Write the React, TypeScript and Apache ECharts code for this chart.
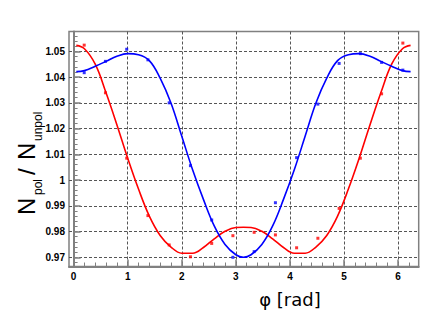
import React, { useEffect, useRef } from "react";
import * as echarts from "echarts";

// measured points (phi in rad)
const phiPoints = [0.196, 0.589, 0.982, 1.374, 1.767, 2.16, 2.553, 2.945, 3.338, 3.731, 4.123, 4.516, 4.909, 5.301, 5.694, 6.087];
const redPoints = [1.0524, 1.0339, 1.0085, 0.9862, 0.9748, 0.9702, 0.9754, 0.9784, 0.9797, 0.9787, 0.9737, 0.9774, 0.989, 1.0085, 1.0335, 1.0532];
const bluePoints = [1.0417, 1.0461, 1.0508, 1.0467, 1.03, 1.0056, 0.9845, 0.97, 0.9722, 0.9912, 1.0087, 1.0295, 1.0453, 1.0491, 1.0457, 1.0427];

// fitted curves
const phiCurve = [0.05, 0.2, 0.4, 0.6, 0.8, 1.0, 1.2, 1.4, 1.6, 1.8, 2.0, 2.2, 2.4, 2.6, 2.8, 3.0, 3.14, 3.28, 3.48, 3.68, 3.88, 4.08, 4.28, 4.48, 4.68, 4.88, 5.08, 5.28, 5.48, 5.68, 5.88, 6.08, 6.23];
const redCurve = [1.0523, 1.051, 1.045, 1.0339, 1.0215, 1.0085, 0.9965, 0.986, 0.9785, 0.974, 0.9716, 0.9716, 0.9738, 0.9772, 0.9801, 0.9816, 0.9817, 0.9816, 0.9801, 0.9772, 0.9738, 0.9716, 0.9716, 0.974, 0.9785, 0.986, 0.9965, 1.0085, 1.0215, 1.0339, 1.045, 1.051, 1.0523];
const blueCurve = [1.0421, 1.0425, 1.0442, 1.0461, 1.0481, 1.0491, 1.0487, 1.0464, 1.0396, 1.0299, 1.017, 1.004, 0.9925, 0.9822, 0.975, 0.971, 0.97, 0.971, 0.975, 0.9822, 0.9925, 1.004, 1.017, 1.0299, 1.0396, 1.0464, 1.0487, 1.0491, 1.0481, 1.0461, 1.0442, 1.0425, 1.0421];

const xTickLabels = [0, 1, 2, 3, 4, 5, 6];
const yTickLabels = [0.97, 0.98, 0.99, 1.0, 1.01, 1.02, 1.03, 1.04, 1.05];

const X_MIN = -0.085;
const X_MAX = 6.38;
const Y_MIN = 0.96643;
const Y_MAX = 1.0577;

function minorX() {
  const out: number[] = [];
  for (let i = 0; i <= 31; i++) out.push(i / 5);
  return out;
}
function minorY() {
  const out: number[] = [];
  for (let i = 484; i <= 528; i++) out.push(i / 500);
  return out;
}

export default function App() {
  const ref = useRef<HTMLDivElement>(null);
  useEffect(() => {
    if (!ref.current) return;
    const chart = echarts.init(ref.current, null, { renderer: "svg" });
    const frame = "#808080";
    const grid = "#555555";
    const lbl = { fontFamily: "Liberation Sans", fontWeight: "bold" as const, fontSize: 10, color: "#000" };
    const pair = (xs: number[], ys: number[]) => xs.map((x, i) => [x, ys[i]]);
    chart.setOption({
      animation: false,
      backgroundColor: "#fff",
      grid: { left: 69, top: 31.5, right: 17.3, bottom: 43.5, show: true, borderColor: frame, borderWidth: 1.5 },
      xAxis: [
        {
          type: "value", min: X_MIN, max: X_MAX,
          axisLine: { show: true, lineStyle: { color: frame, width: 2 } },
          axisTick: { show: true, inside: true, length: 7, customValues: xTickLabels, lineStyle: { color: frame, width: 1.5 } },
          axisLabel: { ...lbl, margin: 5, customValues: xTickLabels, formatter: (v: number) => String(Math.round(v)) },
          splitLine: { show: true, lineStyle: { color: grid, width: 1, type: [3, 2] } },
        },
        {
          type: "value", min: X_MIN, max: X_MAX, position: "bottom",
          axisLine: { show: false },
          axisTick: { show: true, inside: true, length: 4, customValues: minorX(), lineStyle: { color: frame, width: 1 } },
          axisLabel: { show: false },
          splitLine: { show: false },
        },
      ],
      yAxis: [
        {
          type: "value", min: Y_MIN, max: Y_MAX,
          axisLine: { show: true, lineStyle: { color: frame, width: 2 } },
          axisTick: { show: true, inside: true, length: 7, customValues: yTickLabels, lineStyle: { color: frame, width: 1.5 } },
          axisLabel: { ...lbl, margin: 4, customValues: yTickLabels, formatter: (v: number) => String(parseFloat(v.toFixed(2))) },
          splitLine: { show: true, lineStyle: { color: grid, width: 1, type: [3, 2] } },
        },
        {
          type: "value", min: Y_MIN, max: Y_MAX, position: "left",
          axisLine: { show: false },
          axisTick: { show: true, inside: true, length: 4, customValues: minorY(), lineStyle: { color: frame, width: 1 } },
          axisLabel: { show: false },
          splitLine: { show: false },
        },
      ],
      series: [
        { type: "line", data: pair(phiCurve, redCurve), smooth: 0.4, showSymbol: false, lineStyle: { color: "#ff0000", width: 1.6 }, z: 3 },
        { type: "line", data: pair(phiCurve, blueCurve), smooth: 0.4, showSymbol: false, lineStyle: { color: "#0000ff", width: 1.6 }, z: 3 },
        { type: "scatter", data: pair(phiPoints, redPoints), symbol: "rect", symbolSize: 3, itemStyle: { color: "#ff0000" }, z: 4 },
        { type: "scatter", data: pair(phiPoints, bluePoints), symbol: "rect", symbolSize: 3, itemStyle: { color: "#0000ff" }, z: 4 },
      ],
      graphic: [
        {
          type: "text", x: 290, y: 299.5,
          style: { text: "φ [rad]", fontFamily: "DejaVu Sans", fontSize: 18, fill: "#000", align: "center", verticalAlign: "middle" },
        },
        {
          type: "group", x: 0, y: 215, rotation: Math.PI / 2,
          children: [
            { type: "text", x: 0, y: 26.5, style: { text: "N", fontFamily: "Liberation Sans", fontSize: 24, fill: "#000", align: "left", verticalAlign: "middle" } },
            { type: "text", x: 20, y: 37.8, style: { text: "pol", fontFamily: "Liberation Sans", fontSize: 12, fill: "#000", align: "left", verticalAlign: "middle" } },
            { type: "text", x: 40, y: 26.5, style: { text: "/", fontFamily: "Liberation Sans", fontSize: 24, fill: "#000", align: "left", verticalAlign: "middle" } },
            { type: "text", x: 55, y: 26.5, style: { text: "N", fontFamily: "Liberation Sans", fontSize: 24, fill: "#000", align: "left", verticalAlign: "middle" } },
            { type: "text", x: 74, y: 37.8, style: { text: "unpol", fontFamily: "Liberation Sans", fontSize: 12, fill: "#000", align: "left", verticalAlign: "middle" } },
          ],
        },
      ],
    });
    return () => chart.dispose();
  }, []);
  return <div ref={ref} style={{ position: "fixed", left: 0, top: 0, width: 436, height: 310 }} />;
}
